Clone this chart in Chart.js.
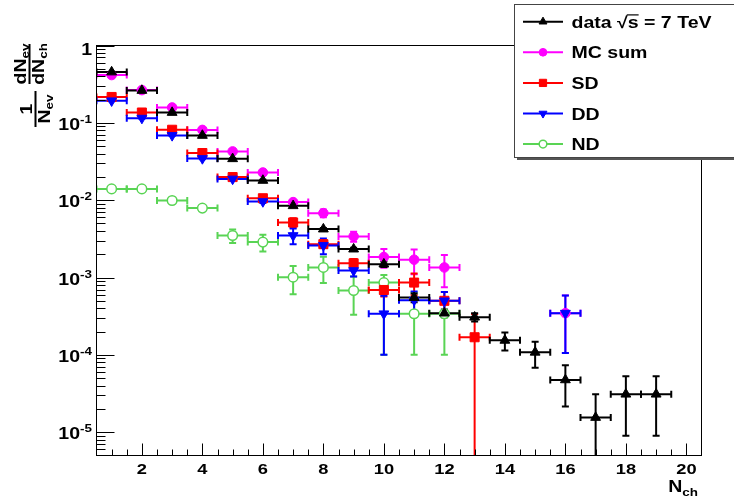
<!DOCTYPE html>
<html>
<head>
<meta charset="utf-8">
<title>Nch distribution</title>
<script src="https://cdn.jsdelivr.net/npm/chart.js@4.4.0/dist/chart.umd.min.js"></script>
<style>
    html, body { margin: 0; padding: 0; background: #ffffff; overflow: hidden; }
    canvas { display: block; }
</style>
</head>
<body>
<canvas id="myChart" width="734" height="501"></canvas>
<script>
// N_ch bins
const nch = [1, 2, 3, 4, 5, 6, 7, 8, 9, 10, 11, 12, 13, 14, 15, 16, 17, 18, 19];

// data sqrt(s) = 7 TeV
const dataVals = [0.454, 0.262, 0.136, 0.0687, 0.0343, 0.0180, 0.00847, 0.00423, 0.00233, 0.00149,
                  0.00055, 0.000346, 0.000307, 0.000154, 0.000108, 0.0000475, 0.0000155, 0.000031, 0.000031];
const dataErr  = [0.005, 0.003, 0.002, 0.001, 0.0006, 0.0004, 0.0002, 0.00015, 0.0001, 0.00012,
                  0.00007, 0.00004, 0.000037, 0.00004, 0.00004, 0.000026, 0.0000155, 0.000022, 0.000022];

// MC sum
const mcVals = [0.415, 0.265, 0.158, 0.081, 0.0427, 0.0228, 0.00944, 0.0068, 0.0034, 0.00184,
                0.0017, 0.00135, null, null, null, 0.000346, null, null, null];
const mcErr  = [0.004, 0.003, 0.002, 0.001, 0.0007, 0.0005, 0.0004, 0.0008, 0.0005, 0.0005,
                0.0006, 0.0006, null, null, null, 0.00024, null, null, null];

// SD
const sdVals = [0.216, 0.136, 0.0814, 0.0407, 0.0199, 0.0106, 0.00515, 0.0027, 0.00153, 0.00069,
                0.00086, 0.0005, 0.000169, null, null, null, null, null, null];
const sdErr  = [0.003, 0.002, 0.0012, 0.0007, 0.0005, 0.0004, 0.0007, 0.0003, 0.0002, 0.00012,
                0.00027, 0.00015, 0.000169, null, null, null, null, null, null];

// DD
const ddVals = [0.193, 0.115, 0.0687, 0.0346, 0.0188, 0.0096, 0.00349, 0.0026, 0.00123, 0.00034,
                0.00051, 0.0005, null, null, null, 0.000346, null, null, null];
const ddErr  = [0.003, 0.002, 0.0012, 0.0007, 0.0005, 0.0004, 0.0008, 0.0006, 0.0002, 0.00024,
                0.00015, 0.00015, null, null, null, 0.00024, null, null, null];

// ND  (error = [down, up] where asymmetric)
const ndVals = [0.0140, 0.0140, 0.0099, 0.0079, 0.00349, 0.00287, 0.00101, 0.00135, 0.00068, 0.00086,
                0.00034, 0.00034, null, null, null, null, null, null, null];
const ndErr  = [0.0003, 0.0003, 0.0003, 0.0003, 0.0007, 0.0007, 0.0004, 0.0005, 0.00035, [0.00076, 0.00022],
                [0.00024, 0.0003], [0.00024, 0.00016], null, null, null, null, null, null, null];

// axes
const xMajorTicks = [2, 4, 6, 8, 10, 12, 14, 16, 18, 20];
const xTickLabels = ['2', '4', '6', '8', '10', '12', '14', '16', '18', '20'];
const yMajorTicks = [1, 0.1, 0.01, 0.001, 0.0001, 0.00001];
const yTickLabels = ['1', '10^-1', '10^-2', '10^-3', '10^-4', '10^-5'];

const legendLabels = ['data √s = 7 TeV', 'MC sum', 'SD', 'DD', 'ND'];

const FONT = '"Liberation Sans", Arial, Helvetica, sans-serif';
const SX = 1.22;   // glyphs in the original are wider than Arial

const GREEN = '#59d454';

function points(vals, errs) {
    const pts = [];
    nch.forEach((x, i) => {
        if (vals[i] !== null) pts.push({ x: x, y: vals[i], err: errs[i] });
    });
    return pts;
}

function series(label, vals, errs, color, style, radius, rotation, fill) {
    return {
        label: label,
        data: points(vals, errs),
        borderColor: color,
        backgroundColor: fill || color,
        pointStyle: style,
        pointRadius: radius,
        pointRotation: rotation,
        pointBorderWidth: fill ? 1.5 : 1,
        pointHoverRadius: radius,
    };
}

// text helper, runs = [{t, size, dy, over}]
function drawRuns(ctx, runs, x, y, align) {
    let w = 0;
    runs.forEach(r => {
        ctx.font = 'bold ' + r.size + 'px ' + FONT;
        r.w = ctx.measureText(r.t).width * SX;
        w += r.w;
    });
    let cx = x;
    if (align === 'right') cx = x - w;
    if (align === 'center') cx = x - w / 2;
    runs.forEach(r => {
        ctx.save();
        ctx.font = 'bold ' + r.size + 'px ' + FONT;
        ctx.textAlign = 'left';
        ctx.textBaseline = 'alphabetic';
        ctx.translate(cx, y + (r.dy || 0));
        ctx.scale(SX, 1);
        ctx.fillText(r.t, 0, 0);
        ctx.restore();
        if (r.over) {
            ctx.save();
            ctx.lineWidth = 1.2;
            ctx.beginPath();
            ctx.moveTo(cx - 1, y - r.size * 0.8);
            ctx.lineTo(cx + r.w, y - r.size * 0.8);
            ctx.stroke();
            ctx.restore();
        }
        cx += r.w;
    });
    return w;
}

function tickRuns(label) {
    const parts = label.split('^');
    const runs = [{ t: parts[0], size: 16 }];
    if (parts[1]) runs.push({ t: parts[1], size: 11, dy: -7 });
    return runs;
}

const errorBars = {
    id: 'errorBars',
    beforeDatasetsDraw(chart) {
        const { ctx, chartArea: a, scales: { x, y } } = chart;
        ctx.save();
        ctx.beginPath();
        ctx.rect(a.left, a.top, a.right - a.left, a.bottom - a.top);
        ctx.clip();
        ctx.lineWidth = 2;
        const sets = chart.data.datasets.slice().reverse();
        sets.forEach(ds => {
            ctx.strokeStyle = ds.borderColor;
            ds.data.forEach(p => {
                const px = x.getPixelForValue(p.x);
                const py = y.getPixelForValue(p.y);
                const xl = x.getPixelForValue(p.x - 0.5);
                const xr = x.getPixelForValue(p.x + 0.5);
                ctx.beginPath();
                ctx.moveTo(xl, py); ctx.lineTo(xr, py);
                ctx.moveTo(xl, py - 3.5); ctx.lineTo(xl, py + 3.5);
                ctx.moveTo(xr, py - 3.5); ctx.lineTo(xr, py + 3.5);
                if (p.err !== null) {
                    const dn = Array.isArray(p.err) ? p.err[0] : p.err;
                    const up = Array.isArray(p.err) ? p.err[1] : p.err;
                    const lo = p.y - dn;
                    const yHi = y.getPixelForValue(p.y + up);
                    const yLo = lo > 0 ? y.getPixelForValue(lo) : a.bottom + 20;
                    ctx.moveTo(px, yHi); ctx.lineTo(px, yLo);
                    ctx.moveTo(px - 3.5, yHi); ctx.lineTo(px + 3.5, yHi);
                    if (lo > 0) { ctx.moveTo(px - 3.5, yLo); ctx.lineTo(px + 3.5, yLo); }
                }
                ctx.stroke();
            });
        });
        ctx.restore();
    }
};

const frame = {
    id: 'frame',
    afterDatasetsDraw(chart) {
        const { ctx, chartArea: a, scales: { x, y } } = chart;
        ctx.save();
        ctx.strokeStyle = '#000';
        ctx.fillStyle = '#000';
        ctx.lineWidth = 1;
        ctx.beginPath();
        // x ticks: minor every 0.5, major from xMajorTicks
        for (let v = 1; v < 20.5; v += 0.5) {
            const px = Math.round(x.getPixelForValue(v)) + 0.5;
            const len = xMajorTicks.includes(v) ? 12 : 6;
            ctx.moveTo(px, a.bottom); ctx.lineTo(px, a.bottom - len);
        }
        // y ticks: decades and 2..9 minors
        for (let k = -6; k <= 0; k++) {
            for (let m = 1; m <= 9; m++) {
                const v = m * Math.pow(10, k);
                if (v < y.min || v > y.max) continue;
                const py = Math.round(y.getPixelForValue(v)) + 0.5;
                const len = m === 1 ? 18 : 9;
                ctx.moveTo(a.left, py); ctx.lineTo(a.left + len, py);
            }
        }
        ctx.stroke();
        ctx.strokeRect(a.left, a.top, a.right - a.left, a.bottom - a.top);

        // tick labels
        xMajorTicks.forEach((v, i) => {
            drawRuns(ctx, [{ t: xTickLabels[i], size: 15 }], x.getPixelForValue(v), 473.5, 'center');
        });
        yMajorTicks.forEach((v, i) => {
            const off = i === 0 ? 9 : 7;
            drawRuns(ctx, tickRuns(yTickLabels[i]), 92, y.getPixelForValue(v) + off, 'right');
        });

        // x title
        drawRuns(ctx, [{ t: 'N', size: 16 }, { t: 'ch', size: 11, dy: 4 }], 698, 491.5, 'right');

        // y title: 1/N_ev dN_ev/dN_ch
        drawFrac(ctx, [{ t: '1', size: 16 }], [{ t: 'N', size: 16 }, { t: 'ev', size: 11, dy: 3 }], 35.5, 109, 36);
        drawFrac(ctx, [{ t: 'dN', size: 16 }, { t: 'ev', size: 11, dy: 3 }],
                      [{ t: 'dN', size: 16 }, { t: 'ch', size: 11, dy: 3 }], 29.5, 64, 40);
        ctx.restore();
    }
};

function drawFrac(ctx, num, den, bx, cy, len) {
    ctx.save();
    ctx.translate(bx, cy);
    ctx.rotate(-Math.PI / 2);
    ctx.fillRect(-len / 2, -1, len, 2);
    drawRuns(ctx, num, 0, -3.5, 'center');
    drawRuns(ctx, den, 0, 14.5, 'center');
    ctx.restore();
}

const legendBox = {
    id: 'legendBox',
    afterDraw(chart) {
        const ctx = chart.ctx;
        const sets = [chart.data.datasets[0], chart.data.datasets[3], chart.data.datasets[2],
                      chart.data.datasets[1], chart.data.datasets[4]];
        ctx.save();
        ctx.fillStyle = '#555';
        ctx.fillRect(517, 7, 230, 153);
        ctx.fillStyle = '#fff';
        ctx.fillRect(515, 5, 230, 153);
        ctx.strokeStyle = '#444';
        ctx.lineWidth = 1;
        ctx.strokeRect(514.5, 4.5, 230, 153);
        sets.forEach((ds, i) => {
            const cy = 21.7 + i * 30.6;
            ctx.strokeStyle = ds.borderColor;
            ctx.lineWidth = 2;
            ctx.beginPath();
            ctx.moveTo(523, cy); ctx.lineTo(563, cy);
            ctx.stroke();
            ctx.fillStyle = ds.backgroundColor;
            ctx.lineWidth = ds.pointBorderWidth;
            Chart.helpers.drawPoint(ctx, {
                pointStyle: ds.pointStyle,
                radius: ds.pointRadius * 0.8,
                rotation: ds.pointRotation,
                borderWidth: ds.pointBorderWidth
            }, 543, cy);
            ctx.fillStyle = '#000';
            ctx.strokeStyle = '#000';
            const label = legendLabels[i];
            const k = label.indexOf('√');
            let runs;
            if (k >= 0) {
                runs = [{ t: label.slice(0, k), size: 16 },
                        { t: '√', size: 16 },
                        { t: label[k + 1], size: 16, over: true },
                        { t: label.slice(k + 2), size: 16 }];
            } else {
                runs = [{ t: label, size: 16 }];
            }
            drawRuns(ctx, runs, 571.5, cy + 6, 'left');
        });
        ctx.restore();
    }
};

const ctx = document.getElementById('myChart').getContext('2d');
const myChart = new Chart(ctx, {
    type: 'scatter',
    data: {
        datasets: [
            series(legendLabels[0], dataVals, dataErr, '#000000', 'triangle', 5.7, 0),
            series(legendLabels[3], ddVals, ddErr, '#0000ff', 'triangle', 5.7, 180),
            series(legendLabels[2], sdVals, sdErr, '#ff0000', 'rect', 6.4, 0),
            series(legendLabels[1], mcVals, mcErr, '#ff00ff', 'circle', 4.8, 0),
            series(legendLabels[4], ndVals, ndErr, GREEN, 'circle', 4.8, 0, '#ffffff'),
        ],
    },
    options: {
        responsive: false,
        animation: false,
        devicePixelRatio: 1,
        layout: { padding: { left: 96.5, top: 45.5, right: 32.5, bottom: 45.5 } },
        plugins: { legend: { display: false }, tooltip: { enabled: false } },
        scales: {
            x: { type: 'linear', min: 0.5, max: 20.5, display: false },
            y: { type: 'logarithmic', min: 0.000005, max: 1, display: false },
        },
    },
    plugins: [errorBars, frame, legendBox],
});
</script>
</body>
</html>
